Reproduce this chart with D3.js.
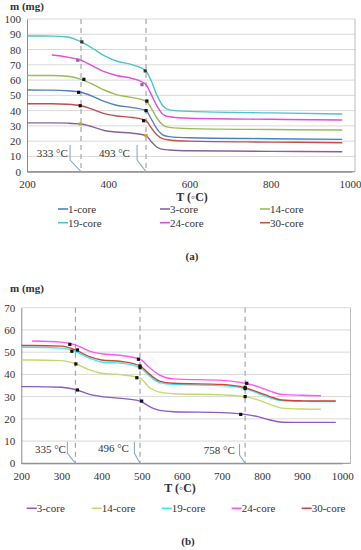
<!DOCTYPE html>
<html>
<head>
<meta charset="utf-8">
<script src="https://cdn.jsdelivr.net/npm/d3@7"></script>
<style>
  body { margin: 0; background: #fff; }
  svg, svg text { font-family: "Liberation Serif", "Times New Roman", serif !important; }
  svg text { fill: #333; }
</style>
</head>
<body>
<script>
// ---- chart (a) data ----
var tempsA = [200, 261, 300, 333, 360, 390, 420, 460, 493, 505, 520, 535, 550, 600, 800, 976];
var namesA = ["1-core", "3-core", "14-core", "19-core", "24-core", "30-core"];
var colorsA = ["#4f81bd", "#8064a2", "#9bbb59", "#4bc6c8", "#dd4fdd", "#c0504d"];
var core1A  = [53.5, 53.4, 53, 52, 49.5, 46, 43.5, 42, 40, 35, 28, 24, 23, 22.2, 21.6, 21.2];
var core3A  = [32, 32, 31.8, 31.2, 29.5, 27, 26, 25.2, 23.6, 20, 16, 14.6, 14.2, 13.7, 13.3, 13.1];
var core14A = [63, 63, 62.5, 60.5, 57.5, 53.5, 50.5, 48.5, 46.3, 42, 35, 30.5, 29, 28.2, 27.6, 27.3];
var core19A = [88.9, 88.8, 88.2, 85, 81, 76, 72.5, 70, 66, 60, 50, 43, 40.5, 39.5, 38.5, 37.8];
var core24A = [null, 76.4, 75, 73, 69.5, 65.5, 63, 61, 57, 51, 43, 37.5, 36, 35, 34.3, 33.9];
var core30A = [44.5, 44.5, 44.2, 43.2, 41, 38, 36.5, 35.5, 33.4, 29, 24, 21.5, 20.8, 20, 19.4, 19];
// markers: [temp, mass] per series, same order as names
var markT_A = [[327, 493], [331, 493], [340, 495], [335, 491], [325, 483], [331, 487]];
var markM_A = [[52, 40], [31.2, 23.6], [60.5, 46.3], [85, 66], [73, 57], [43.2, 33.4]];
var markC_A = ["#111", "#d4a020", "#111", "#333", "#8a6a8a", "#111"];
var ticksYA = [0, 10, 20, 30, 40, 50, 60, 70, 80, 90, 100];
var ticksXA = [200, 400, 600, 800, 1000];
var peaksA = [333, 493];

// ---- chart (b) data ----
var tempsB = [200, 227, 300, 335, 370, 400, 450, 496, 520, 545, 580, 700, 758, 790, 820, 850, 900, 947, 984];
var namesB = ["3-core", "14-core", "19-core", "24-core", "30-core"];
var colorsB = ["#8a5cc0", "#c6d870", "#33f0f0", "#ff55ff", "#d0443c"];
var core3B  = [34.5, 34.5, 34.2, 33.2, 31, 30, 29.2, 28, 25.5, 23.8, 23.2, 22.8, 22, 21, 19.5, 18.5, 18.4, 18.4, 18.4];
var core14B = [46.5, 46.5, 46.2, 44.8, 42, 40.5, 39.8, 38.3, 34, 32, 31.3, 30.8, 30, 28.5, 26.5, 24.8, 24.4, 24.3, null];
var core19B = [52.2, 52.2, 51.8, 50.3, 47.3, 45.6, 45, 43, 39.2, 36.3, 35.5, 35, 33.6, 31.5, 29.5, 28.2, 27.9, 27.8, 27.8];
var core24B = [null, 55, 54.5, 53.3, 50.5, 49.3, 48.5, 46.8, 43, 39.7, 38, 37.3, 36, 34.5, 32.5, 31, 30.6, 30.4, null];
var core30B = [53, 53, 52.7, 51, 48, 46.5, 45.8, 43.8, 40, 37, 36, 35.5, 34, 32, 30, 28.5, 28.1, 28, 28];
var markT_B = [[340, 500, 747], [336, 488, 758], [326, 496, 758], [321, 492, 762], [340, 496, 758]];
var markM_B = [[33, 28, 22], [44.7, 38.5, 30], [50.4, 43, 33.6], [53.5, 46.8, 36], [51, 43.8, 34.2]];
var markC_B = ["#111", "#111", "#111", "#111", "#111"];
var ticksYB = [0, 10, 20, 30, 40, 50, 60, 70];
var ticksXB = [200, 300, 400, 500, 600, 700, 800, 900, 1000];
var peaksB = [335, 496, 758];

var svg = d3.select("body").append("svg")
  .attr("width", 361)
  .attr("height", 550)

function drawChart(o) {
  var x = d3.scaleLinear().domain(o.xDomain).range([o.left, o.right]);
  var y = d3.scaleLinear().domain(o.yDomain).range([o.bottom, o.top]);
  var g = svg.append("g");

  // gridlines
  g.selectAll(".grid").data(o.ticksY.slice(1)).enter().append("line")
    .attr("x1", o.left).attr("x2", o.frameRight)
    .attr("y1", function(d) { return y(d) }).attr("y2", function(d) { return y(d) })
    .attr("stroke", "#d9d9d9").attr("stroke-width", 1);
  // frame right
  g.append("line").attr("x1", o.frameRight).attr("x2", o.frameRight).attr("y1", o.top).attr("y2", o.bottom)
    .attr("stroke", "#bdbdbd");
  g.append("line").attr("x1", o.left).attr("x2", o.frameRight).attr("y1", o.bottom).attr("y2", o.bottom)
    .attr("stroke", "#8c8c8c");

  // axes
  var yAxis = g.append("g").attr("transform", "translate(" + o.left + ",0)")
    .call(d3.axisLeft(y).tickValues(o.ticksY).tickSize(0).tickPadding(6));
  var xAxis = g.append("g").attr("transform", "translate(0," + o.bottom + ")")
    .call(d3.axisBottom(x).tickValues(o.ticksX).tickFormat(d3.format("d")).tickSize(0).tickPadding(9));
  [yAxis, xAxis].forEach(function(a) {
    a.attr("font-family", null);
    a.select(".domain").attr("stroke", "#8c8c8c");
    a.selectAll("text").style("font-size", "11px").attr("fill", "#333");
  });
  // keep the last x label inside the picture
  xAxis.selectAll(".tick:last-of-type text").attr("dx", o.lastDx || 0);

  // dashed temperature lines
  g.selectAll(".peak").data(o.peaks).enter().append("line")
    .attr("x1", function(d) { return x(d) }).attr("x2", function(d) { return x(d) })
    .attr("y1", o.top).attr("y2", o.bottom)
    .attr("stroke", "#a6a6a6").attr("stroke-width", 1.2).attr("stroke-dasharray", "5,4");

  // series
  var line = d3.line()
    .defined(function(d) { return d[1] != null })
    .x(function(d) { return x(d[0]) })
    .y(function(d) { return y(d[1]) })
    .curve(d3.curveMonotoneX);
  o.series.forEach(function(s, i) {
    var pts = o.temps.map(function(t, j) { return [t, s[j]] });
    g.append("path").datum(pts).attr("d", line)
      .attr("fill", "none").attr("stroke", o.colors[i]).attr("stroke-width", 1.4);
  });

  // markers
  o.markT.forEach(function(ts, i) {
    g.selectAll(null).data(ts).enter().append("rect")
      .attr("x", function(d) { return x(d) - 1.6 })
      .attr("y", function(d, j) { return y(o.markM[i][j]) - 1.6 })
      .attr("width", 3.2).attr("height", 3.2)
      .attr("fill", o.markC[i]);
  });

  // callouts
  o.callouts.forEach(function(c) {
    g.append("text").attr("x", x(c.tx)).attr("y", y(c.ty))
      .style("font-size", "11px").text(c.label);
    g.append("path")
      .attr("d", "M" + x(c.cx) + "," + y(c.c1) + "L" + x(c.cx) + "," + y(c.c2) + "L" + x(c.peak) + "," + y(0))
      .attr("fill", "none").attr("stroke", "#8eaacc").attr("stroke-width", 1.1);
  });

  // axis titles
  g.append("text").attr("x", o.mx).attr("y", o.my).style("font-size", "11px")
    .style("font-weight", "bold").attr("fill", "#222").text("m (mg)");
  g.append("text").attr("x", o.tx).attr("y", o.ty).attr("text-anchor", "middle")
    .style("font-size", "12px").style("font-weight", "bold").attr("fill", "#222").text("T (\u25e6C)");

  // legend
  var leg = g.selectAll(".leg").data(o.names).enter().append("g")
    .attr("transform", function(d, i) { return "translate(" + o.legX[i % o.legCols] + "," + (o.legY + Math.floor(i / o.legCols) * o.legDy) + ")" });
  leg.append("line").attr("x1", 0).attr("x2", 10).attr("y1", 0).attr("y2", 0)
    .attr("stroke", function(d, i) { return o.colors[i] }).attr("stroke-width", 1.6);
  leg.append("text").attr("x", 10).attr("y", 4).style("font-size", "11px").text(function(d) { return d });

  g.append("text").attr("x", o.capX).attr("y", o.capY).attr("text-anchor", "middle")
    .style("font-size", "11px").style("font-weight", "bold").attr("fill", "#222").text(o.caption);
}

drawChart({
  xDomain: [200, 1000], yDomain: [0, 100],
  left: 27, right: 352, frameRight: 355, top: 19, bottom: 171.7, lastDx: -2,
  ticksY: ticksYA, ticksX: ticksXA, peaks: peaksA,
  temps: tempsA, series: [core1A, core3A, core14A, core19A, core24A, core30A],
  names: namesA, colors: colorsA,
  markT: markT_A, markM: markM_A, markC: markC_A,
  callouts: [
    { label: "333 \u00b0C", tx: 224, ty: 9.5, cx: 306, c1: 17.5, c2: 7.6, peak: 333 },
    { label: "493 \u00b0C", tx: 377, ty: 9.5, cx: 471, c1: 17.5, c2: 7.6, peak: 493 }
  ],
  mx: 10, my: 10, tx: 192, ty: 201,
  legX: [58, 160, 260], legCols: 3, legY: 209, legDy: 13.7,
  capX: 192, capY: 260, caption: "(a)"
});

drawChart({
  xDomain: [200, 1000], yDomain: [0, 70],
  left: 21.3, right: 342.2, frameRight: 350.5, top: 307.7, bottom: 463.3,
  ticksY: ticksYB, ticksX: ticksXB, peaks: peaksB,
  temps: tempsB, series: [core3B, core14B, core19B, core24B, core30B],
  names: namesB, colors: colorsB,
  markT: markT_B, markM: markM_B, markC: markC_B,
  callouts: [
    { label: "335 \u00b0C", tx: 234, ty: 4.5, cx: 315, c1: 9.7, c2: 4.5, peak: 335 },
    { label: "496 \u00b0C", tx: 391, ty: 5, cx: 482, c1: 9.7, c2: 4.5, peak: 496 },
    { label: "758 \u00b0C", tx: 655, ty: 4, cx: 744, c1: 8.7, c2: 3.7, peak: 758 }
  ],
  mx: 10, my: 292, tx: 180, ty: 492,
  legX: [26.7, 91.7, 161.7, 231.7, 301.7], legCols: 5, legY: 508.3, legDy: 0,
  capX: 188, capY: 545, caption: "(b)"
});
</script>
</body>
</html>
